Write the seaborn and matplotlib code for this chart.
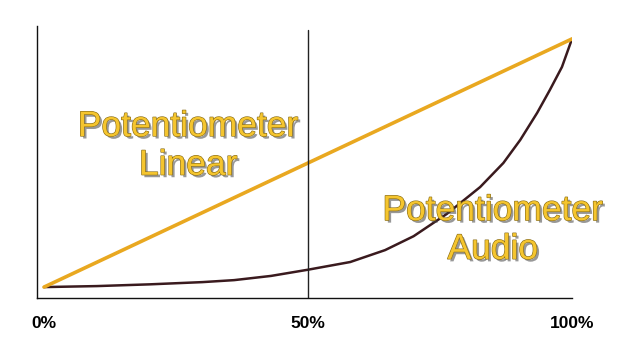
import matplotlib
matplotlib.use("Agg")
import matplotlib.pyplot as plt
import matplotlib.patheffects as pe
import seaborn as sns
import pandas as pd

# Data (percent of rotation vs percent of resistance)
x_linear = [0, 100]
y_linear = [0, 100]
x_audio = [0, 10, 20, 30, 36, 43, 50, 58, 64.6, 70, 76.3, 82.6, 87, 90.2, 93.4, 95.8, 98.1, 100]
y_audio = [0, 0.4, 1.1, 2.0, 2.8, 4.5, 7.0, 10.1, 14.9, 20.5, 29.5, 40.3, 50, 59.3, 70.2, 79.4, 88.7, 100]
tick_pos = [0, 50, 100]
tick_labels = ["0%", "50%", "100%"]
label_linear = "Potentiometer\nLinear"
label_audio = "Potentiometer\nAudio"

sns.set_theme(style="white")
plt.rcParams["font.family"] = ["Liberation Sans", "DejaVu Sans"]

fig = plt.figure(figsize=(6.33, 3.44), dpi=100)
ax = fig.add_axes([37/633, 1-298/344, (572-37)/633, (298-26)/344])

df_lin = pd.DataFrame({"x": x_linear, "y": y_linear})
df_aud = pd.DataFrame({"x": x_audio, "y": y_audio})
sns.lineplot(data=df_aud, x="x", y="y", ax=ax, color="#3a1a1e", linewidth=1.8,
             sort=False, estimator=None, solid_joinstyle="round")
sns.lineplot(data=df_lin, x="x", y="y", ax=ax, color="#e9a820", linewidth=2.6,
             sort=False, estimator=None, solid_capstyle="round")

ax.set_xlim(-1.33, 100)
ax.set_ylim(-4.4, 105.2)
ax.axvline(50, ymin=0, ymax=(103.6+4.4)/(105.2+4.4), color="#222222", linewidth=1.0)

for s in ["top", "right"]:
    ax.spines[s].set_visible(False)
for s in ["left", "bottom"]:
    ax.spines[s].set_color("#111111")
    ax.spines[s].set_linewidth(1.0)

ax.set_xticks(tick_pos)
ax.set_xticklabels(tick_labels, fontsize=12.5, fontweight="bold", color="black")
ax.set_yticks([])
ax.tick_params(axis="x", length=0, pad=13)
ax.set_xlabel("")
ax.set_ylabel("")

effects = [pe.withSimplePatchShadow(offset=(1.8, -1.8), shadow_rgbFace="#444444", alpha=0.55),
           pe.Stroke(linewidth=0.9, foreground="#8a6e1a"), pe.Normal()]
ax.text(27.3, 56.9, label_linear, ha="center", va="center", fontsize=25.5,
        color="#f5c52e", linespacing=1.22, path_effects=effects)
ax.text(85, 23, label_audio, ha="center", va="center", fontsize=25.5,
        color="#f5c52e", linespacing=1.22, path_effects=effects, clip_on=False)

fig.savefig("out.png", dpi=100, facecolor="white")
